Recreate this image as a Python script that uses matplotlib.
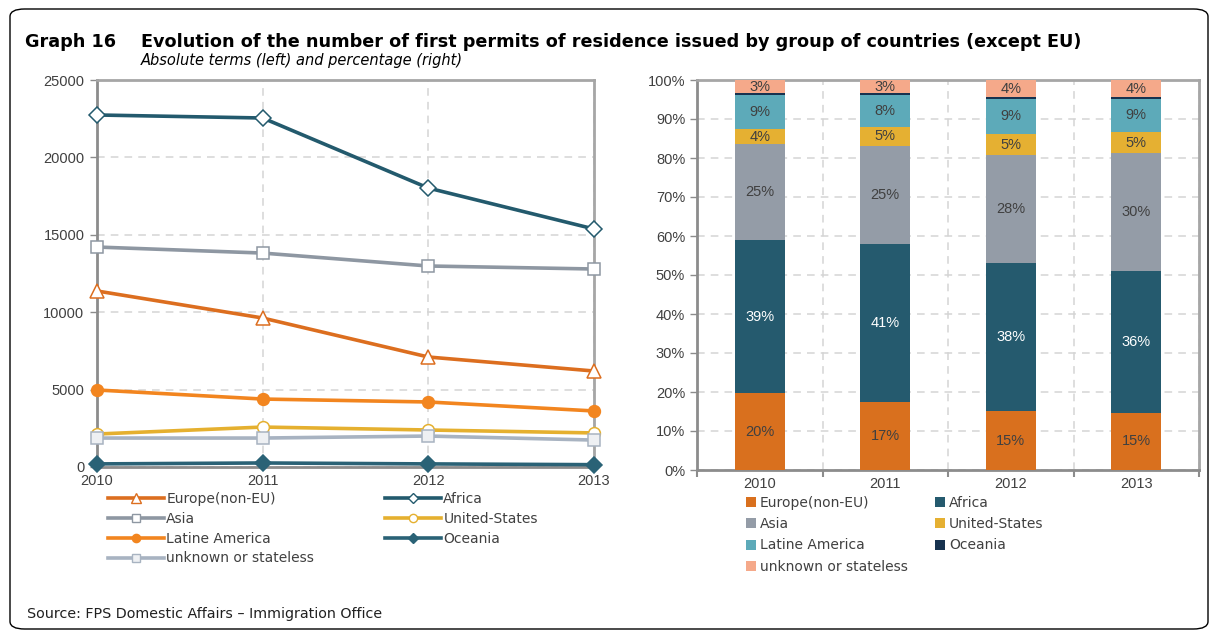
import numpy as np
import matplotlib
matplotlib.use('Agg')
import matplotlib.pyplot as plt
from matplotlib.lines import Line2D
from matplotlib.patches import Patch, FancyBboxPatch

# data
years = [2010, 2011, 2012, 2013]
groups = ['Europe(non-EU)', 'Africa', 'Asia', 'United-States',
          'Latine America', 'Oceania', 'unknown or stateless']

# absolute numbers (left)
europe = [11370, 9625, 7105, 6200]
africa = [22740, 22545, 18020, 15375]
asia = [14210, 13820, 12985, 12790]
us = [2130, 2580, 2390, 2200]
latin = [4975, 4390, 4200, 3620]
oceania = [200, 260, 200, 150]
unknown = [1870, 1870, 2000, 1740]

# shares in % (right)
pct_europe = [19.7, 17.4, 15.1, 14.7]
pct_africa = [39.3, 40.6, 38.1, 36.2]
pct_asia = [24.6, 25.1, 27.6, 30.4]
pct_us = [3.8, 4.9, 5.3, 5.3]
pct_latin = [8.8, 8.1, 9.1, 8.6]
pct_oceania = [0.4, 0.5, 0.4, 0.4]
pct_unknown = [3.4, 3.4, 4.4, 4.4]

txt = '#404040'
narrow = ['Liberation Sans', 'DejaVu Sans']
plt.rcParams['font.family'] = ['DejaVu Sans']

fig = plt.figure(figsize=(12.17, 6.33), dpi=100)
W, H = 1217, 633

def box(x0, y0, x1, y1):
    return [x0 / W, 1 - y1 / H, (x1 - x0) / W, (y1 - y0) / H]

# outer rounded frame
fig.patches.append(FancyBboxPatch((10 / W, 4 / H), 1198 / W, 620 / H,
                                  boxstyle='round,pad=0,rounding_size=0.012',
                                  transform=fig.transFigure, fill=False,
                                  lw=1, ec='black'))

fig.text(25 / W, 1 - 42 / H, 'Graph 16', fontsize=12.7, fontweight='bold', va='center')
fig.text(141 / W, 1 - 42 / H,
         'Evolution of the number of first permits of residence issued by group of countries (except EU)',
         fontsize=12.7, fontweight='bold', va='center')
fig.text(141 / W, 1 - 60 / H, 'Absolute terms (left) and percentage (right)',
         fontsize=10.5, style='italic', va='center')
fig.text(27 / W, 1 - 614 / H, 'Source: FPS Domestic Affairs \u2013 Immigration Office',
         fontsize=10.3, va='center', color='#202020')

# ---------- left: lines ----------
ax = fig.add_axes(box(97, 80, 594, 467))
line_styles = [
    (europe, '#DC6E1F', '^', 'white', 10),
    (africa, '#235A6D', 'D', 'white', 8),
    (asia, '#8E97A2', 's', 'white', 8.5),
    (us, '#E5B02F', 'o', 'white', 8.5),
    (latin, '#F2851F', 'o', '#F2851F', 8.5),
    (oceania, '#2A6276', 'D', '#2A6276', 8),
    (unknown, '#A8B3C1', 's', '#EEF0F3', 8.5),
]
handles = []
for (vals, c, m, fc, ms), name in zip(line_styles, groups):
    ax.plot(years, vals, color=c, lw=2.6, marker=m, markersize=ms,
            markerfacecolor=fc, markeredgecolor=c, markeredgewidth=1.1,
            zorder=3, clip_on=False)
    handles.append(Line2D([], [], color=c, lw=2.6, marker=m, markersize=ms * 0.7,
                          markerfacecolor=fc, markeredgecolor=c, markeredgewidth=1))

ax.set_xlim(2010, 2013)
ax.set_ylim(0, 25000)
ax.set_yticks(range(0, 25001, 5000))
ax.set_xticks(years)
ax.grid(True, ls=(0, (5, 4)), color='#D4D4D4', lw=1.1)
ax.set_axisbelow(True)
for s in ax.spines.values():
    s.set_color('#8C8C8C')
    s.set_linewidth(2)
ax.spines['top'].set_color('#A6A6A6')
ax.spines['right'].set_color('#A6A6A6')
ax.tick_params(axis='x', colors=txt, labelsize=10.5, length=0, pad=5)
ax.tick_params(axis='y', colors=txt, labelsize=10.5, length=5,
               color='#8C8C8C', width=1, pad=4)
for lab in ax.get_xticklabels() + ax.get_yticklabels():
    lab.set_family(narrow)

order1 = [0, 2, 4, 6]
order2 = [1, 3, 5]
fig.legend([handles[i] for i in order1], [groups[i] for i in order1],
           loc='upper left', bbox_to_anchor=(108 / W, 1 - 492 / H),
           frameon=False, fontsize=10, labelcolor=txt, handlelength=4,
           handletextpad=0.2, labelspacing=0.42, borderpad=0, borderaxespad=0)
fig.legend([handles[i] for i in order2], [groups[i] for i in order2],
           loc='upper left', bbox_to_anchor=(385 / W, 1 - 492 / H),
           frameon=False, fontsize=10, labelcolor=txt, handlelength=4,
           handletextpad=0.2, labelspacing=0.42, borderpad=0, borderaxespad=0)

# ---------- right: stacked bars ----------
ax2 = fig.add_axes(box(697, 80, 1199, 470))
shares = [pct_europe, pct_africa, pct_asia, pct_us, pct_latin, pct_oceania, pct_unknown]
bar_colors = ['#D9701E', '#255A6E', '#949CA7', '#E5B032', '#5DAAB9', '#17324F', '#F5A98A']
x = np.arange(len(years))
bottom = np.zeros(len(years))
for vals, c, name in zip(shares, bar_colors, groups):
    vals = np.array(vals)
    ax2.bar(x, vals, 0.4, bottom=bottom, color=c, zorder=3)
    if name != 'Oceania':
        for xi, b, v in zip(x, bottom, vals):
            ax2.text(xi, b + v / 2, f'{v:.0f}%', ha='center', va='center',
                     fontsize=10.5, family=narrow,
                     color='white' if name == 'Africa' else txt, zorder=4)
    bottom += vals

ax2.set_xlim(-0.5, 3.5)
ax2.set_ylim(0, 100)
ax2.set_yticks(range(0, 101, 10))
ax2.set_yticklabels([f'{v}%' for v in range(0, 101, 10)])
ax2.set_xticks(x)
ax2.set_xticklabels([str(y) for y in years])
ax2.set_xticks([-0.5, 0.5, 1.5, 2.5, 3.5], minor=True)
ax2.grid(True, axis='y', ls=(0, (5, 4)), color='#D4D4D4', lw=1.1)
ax2.grid(True, axis='x', which='minor', ls=(0, (5, 4)), color='#D4D4D4', lw=1.1)
ax2.set_axisbelow(True)
for s in ax2.spines.values():
    s.set_color('#A6A6A6')
    s.set_linewidth(2)
ax2.spines['left'].set_color('#8C8C8C')
ax2.spines['bottom'].set_color('#8C8C8C')
ax2.tick_params(axis='x', which='major', length=0, colors=txt, labelsize=10.5, pad=5)
ax2.tick_params(axis='x', which='minor', length=5, color='#8C8C8C', width=1.5)
ax2.tick_params(axis='y', length=5, color='#8C8C8C', width=1, colors=txt, labelsize=10.5)
for lab in ax2.get_xticklabels() + ax2.get_yticklabels():
    lab.set_family(narrow)

bh = [Patch(facecolor=c) for c in bar_colors]
fig.legend([bh[i] for i in order1], [groups[i] for i in order1],
           loc='upper left', bbox_to_anchor=(746 / W, 1 - 496 / H),
           frameon=False, fontsize=10, labelcolor=txt, handlelength=0.75,
           handleheight=0.75, handletextpad=0.25, labelspacing=0.52,
           borderpad=0, borderaxespad=0)
fig.legend([bh[i] for i in order2], [groups[i] for i in order2],
           loc='upper left', bbox_to_anchor=(935 / W, 1 - 496 / H),
           frameon=False, fontsize=10, labelcolor=txt, handlelength=0.75,
           handleheight=0.75, handletextpad=0.25, labelspacing=0.52,
           borderpad=0, borderaxespad=0)

fig.savefig('out.png', dpi=100)
